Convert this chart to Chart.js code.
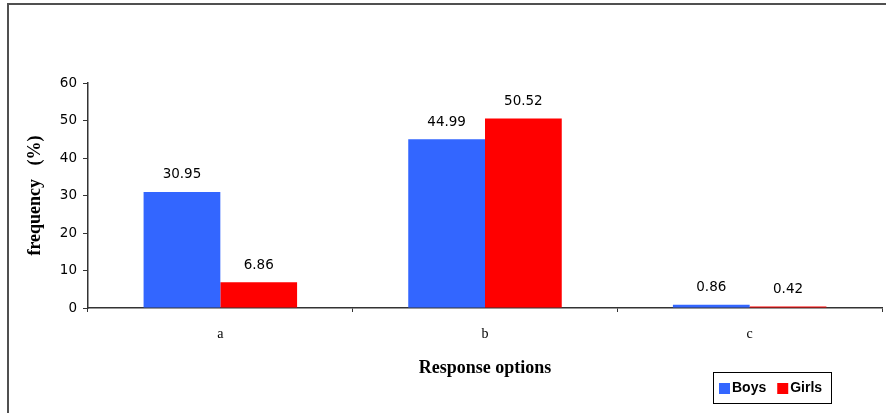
<!DOCTYPE html>
<html>
<head>
<meta charset="utf-8">
<script src="https://cdn.jsdelivr.net/npm/chart.js@4.4.1/dist/chart.umd.min.js"></script>
<style>
  body { margin: 0; background: #fff; }
  canvas { display: block; }
</style>
</head>
<body>
<canvas id="myChart" width="886" height="413"></canvas>
<script>
// data
const categories = ['a', 'b', 'c'];
const seriesNames = ['Boys', 'Girls'];
const boysValues = [30.95, 44.99, 0.86];
const girlsValues = [6.86, 50.52, 0.42];
const yMin = 0, yMax = 60, yStep = 10;

const ctx = document.getElementById('myChart').getContext('2d');

// value labels above each bar
const barLabels = {
  id: 'barLabels',
  afterDatasetsDraw(chart) {
    const c = chart.ctx;
    c.save();
    c.font = '13.5px "DejaVu Sans", sans-serif';
    c.fillStyle = '#000';
    c.textAlign = 'center';
    c.textBaseline = 'middle';
    chart.data.datasets.forEach((ds, i) => {
      chart.getDatasetMeta(i).data.forEach((bar, j) => {
        c.fillText(ds.data[j].toFixed(2), bar.x, bar.y - 17);
      });
    });
    c.restore();
  }
};

// outer frame (only top and left edges show in the picture)
const frame = {
  id: 'frame',
  beforeDraw(chart) {
    const c = chart.ctx;
    c.save();
    c.strokeStyle = '#505050';
    c.lineWidth = 2;
    c.beginPath();
    c.moveTo(8, chart.height);
    c.lineTo(8, 4);
    c.lineTo(chart.width, 4);
    c.stroke();
    c.restore();
  }
};

// boxed legend at the lower right
const boxLegend = {
  id: 'boxLegend',
  afterDraw(chart) {
    const c = chart.ctx;
    const bx = 713, by = 372, bw = 118, bh = 31;
    c.save();
    c.fillStyle = '#fff';
    c.fillRect(bx, by, bw, bh);
    c.strokeStyle = '#000';
    c.lineWidth = 1;
    c.strokeRect(bx + 0.5, by + 0.5, bw, bh);
    c.font = 'bold 14px "Liberation Sans", sans-serif';
    c.textBaseline = 'middle';
    let x = bx + 6;
    chart.data.datasets.forEach(ds => {
      c.fillStyle = ds.backgroundColor;
      c.fillRect(x, by + 11, 11, 11);
      x += 13;
      c.fillStyle = '#000';
      c.fillText(ds.label, x, by + bh / 2 + 1);
      x += c.measureText(ds.label).width + 11;
    });
    c.restore();
  }
};

const chart = new Chart(ctx, {
  type: 'bar',
  data: {
    labels: categories,
    datasets: [
      {
        label: seriesNames[0],
        data: boysValues,
        backgroundColor: '#3366FF',
        categoryPercentage: 0.58,
        barPercentage: 1
      },
      {
        label: seriesNames[1],
        data: girlsValues,
        backgroundColor: '#FF0000',
        categoryPercentage: 0.58,
        barPercentage: 1
      }
    ]
  },
  options: {
    responsive: false,
    animation: false,
    layout: { padding: { left: 0, top: 83, right: 4, bottom: 0 } },
    plugins: {
      legend: { display: false },
      tooltip: { enabled: false }
    },
    scales: {
      x: {
        grid: { offset: true, drawOnChartArea: false, drawTicks: true, tickLength: 4, color: '#333' },
        border: { color: '#333', width: 1.5 },
        ticks: {
          color: '#000',
          padding: 14,
          font: { family: '"Liberation Serif", serif', size: 14 }
        },
        title: {
          display: true,
          text: 'Response options',
          color: '#000',
          font: { family: '"Liberation Serif", serif', size: 18, weight: 'bold' },
          padding: { top: 0, bottom: 34 }
        },
        afterFit(scale) { scale.height = 105; }
      },
      y: {
        min: yMin,
        max: yMax,
        grid: { drawOnChartArea: false, drawTicks: true, tickLength: 5, color: '#333' },
        border: { color: '#333', width: 1.5 },
        ticks: {
          stepSize: yStep,
          color: '#000',
          padding: 6,
          font: { family: '"DejaVu Sans", sans-serif', size: 13.5 }
        },
        title: {
          display: true,
          text: 'frequency   (%)',
          color: '#000',
          font: { family: '"Liberation Serif", serif', size: 18, weight: 'bold' },
          padding: { top: 25, bottom: 0 }
        },
        afterFit(scale) { scale.width = 88; }
      }
    }
  },
  plugins: [frame, barLabels, boxLegend]
});
</script>
</body>
</html>
